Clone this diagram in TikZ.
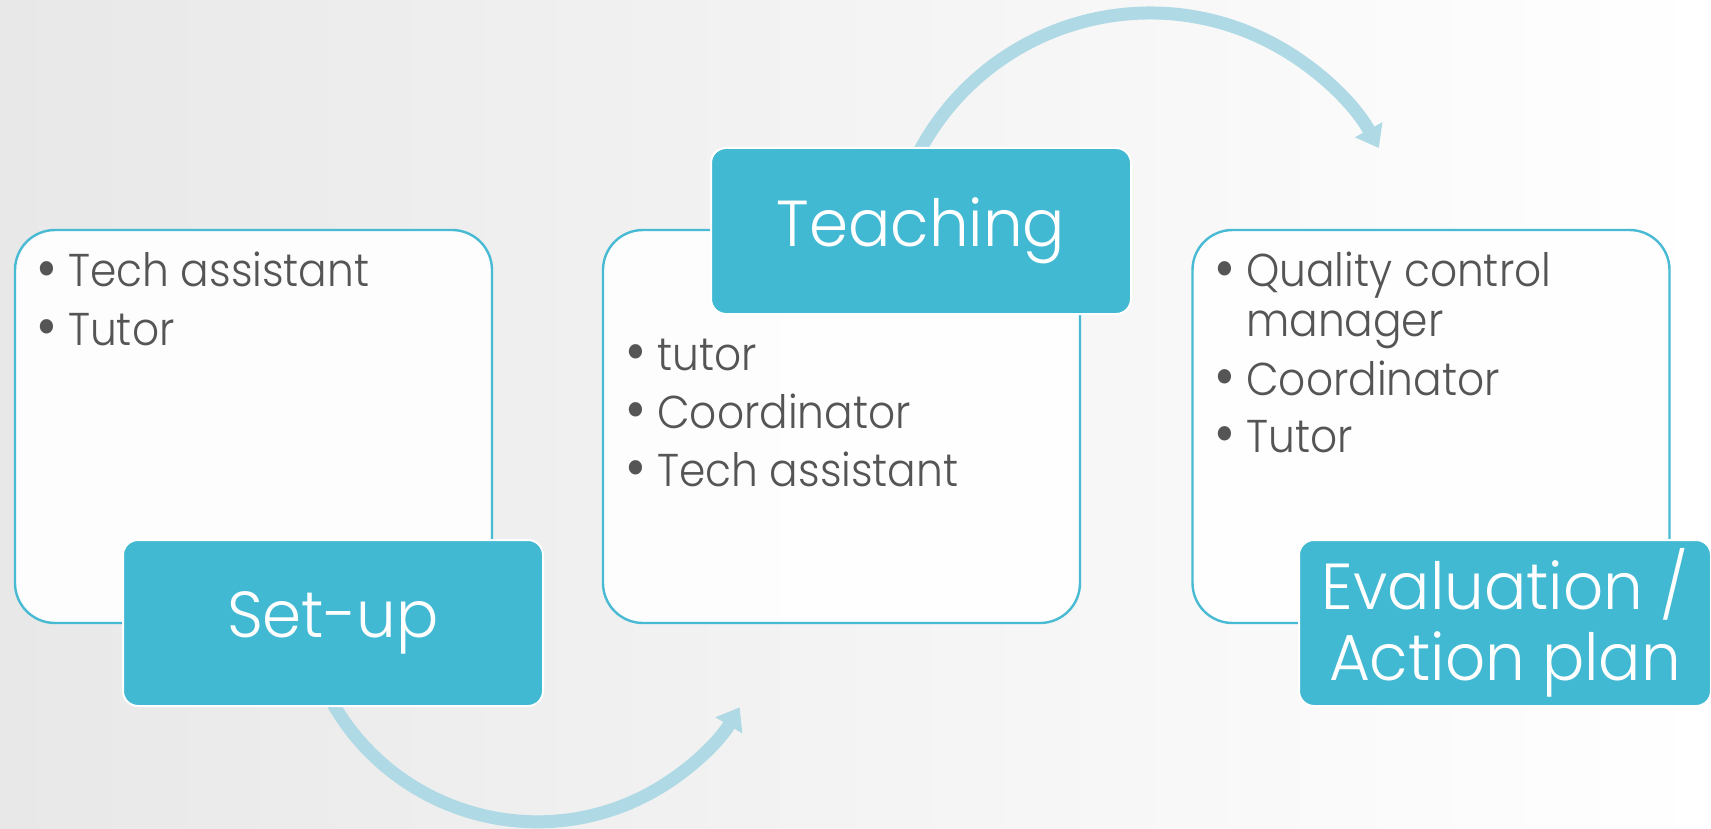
\documentclass[tikz,border=0pt]{standalone}
\usepackage{fontspec}
\setmainfont{Poppins}[UprightFont=* Light]
\newfontfamily\bulletface{Poppins}[UprightFont=* Light, FakeStretch=0.92]
\newfontfamily\titleface{Poppins}[UprightFont=* Light, FakeStretch=0.965]
\usetikzlibrary{arrows.meta}
\definecolor{teal1}{RGB}{66,185,211}
\definecolor{tealline}{RGB}{72,186,211}
\definecolor{arrowblue}{RGB}{174,217,229}
\definecolor{txtgray}{RGB}{85,85,85}
\definecolor{bgleft}{RGB}{232,232,232}
\newcommand{\bulletfont}{\bulletface\fontsize{46}{49}\selectfont}
\newcommand{\titlefont}{\titleface\fontsize{65}{71}\selectfont}
\newcommand{\bl}[1]{\makebox[30pt][l]{\hspace{-2pt}\raisebox{-2pt}{\scalebox{1.35}{•}}}#1}
\pgfdeclarelayer{bg}
\pgfsetlayers{bg,main}
\begin{document}
\begin{tikzpicture}[x=1pt,y=-1pt,
  listbox/.style={draw=tealline, line width=2.4pt, fill=white, fill opacity=0.92, draw opacity=1,
    rounded corners=40pt, minimum width=477pt, minimum height=393pt, inner sep=0pt, outer sep=0pt},
  titlebox/.style={fill=teal1, draw=white, line width=2pt, rounded corners=15pt,
    minimum width=420pt, minimum height=166pt, inner sep=0pt, outer sep=0pt,
    text=white, font=\titlefont, align=center},
  bulletline/.style={anchor=base west, inner sep=0pt, text=txtgray, font=\bulletfont},
  flowarrow/.style={draw=arrowblue, line width=13pt, -{Triangle[width=30pt,length=21pt]}}]
\useasboundingbox (0,0) rectangle (1711,829);
\begin{pgfonlayer}{bg}
\shade[left color=bgleft, right color=white] (0,0) rectangle (1711,829);
\end{pgfonlayer}

\node[listbox] (b1) at (253.5,426.5) {};
\node[titlebox] (s1) at (333,623) {Set-up};
\node[listbox] (b2) at (841.5,426.5) {};
\node[titlebox] (s2) at (921,231) {Teaching};
\node[listbox] (b3) at (1431,426.5) {};
\node[titlebox, minimum width=412pt] (s3) at (1505,623) {Evaluation /\\Action plan};

\node[bulletline] (t1a) at (38,287) {\bl{Tech assistant}};
\node[bulletline] (t1b) at (38,345) {\bl{Tutor}};

\node[bulletline] (t2a) at (627,370) {\bl{tutor}};
\node[bulletline] (t2b) at (627,428) {\bl{Coordinator}};
\node[bulletline] (t2c) at (627,486) {\bl{Tech assistant}};

\node[bulletline] (t3a) at (1216,287) {\bl{Quality control}};
\node[bulletline] (t3b) at (1246,336) {manager};
\node[bulletline] (t3c) at (1216,395) {\bl{Coordinator}};
\node[bulletline] (t3d) at (1216,452) {\bl{Tutor}};

\begin{pgfonlayer}{bg}
\draw[flowarrow] ([xshift=-1pt,yshift=4pt]s1.south) arc[start angle=150.5, end angle=31.0, radius=236];
\draw[flowarrow] ([xshift=-1.8pt,yshift=-3.7pt]s2.north) arc[start angle=208, end angle=331.1, radius=261.4];
\end{pgfonlayer}
\end{tikzpicture}
\end{document}
